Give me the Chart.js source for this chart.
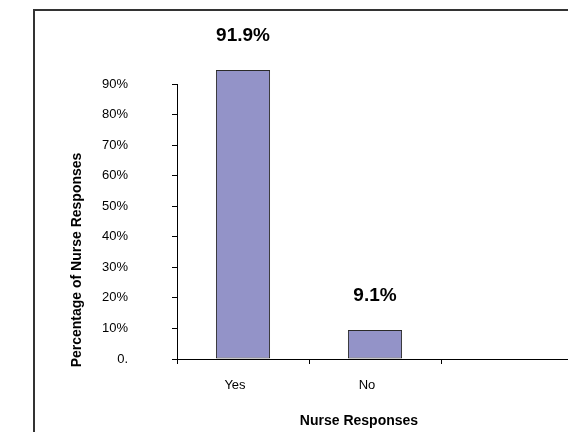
<!DOCTYPE html>
<html>
<head>
<meta charset="utf-8">
<title>Nurse Responses</title>
<script src="https://cdn.jsdelivr.net/npm/chart.js@4.4.1/dist/chart.umd.min.js"></script>
<style>
  html, body { margin: 0; padding: 0; background: #fff; overflow: hidden; }
  #wrap { position: relative; width: 580px; height: 432px; }
</style>
</head>
<body>
<div id="wrap"><canvas id="nurseChart"></canvas></div>
<script>
// data
var categories = ["Yes", "No", ""];
var barHeights = [94.6, 9.5, null];
var valueLabels = ["91.9%", "9.1%", ""];
var yTickLabels = ["0.", "10%", "20%", "30%", "40%", "50%", "60%", "70%", "80%", "90%"];
var xTitle = "Nurse Responses";
var yTitle = "Percentage of Nurse Responses";

Chart.defaults.font.family = "'Liberation Sans', Arial, sans-serif";
Chart.defaults.color = "#000";

// frame, axis titles and the value labels above the bars
var decorations = {
  id: "decorations",
  beforeDraw: function (chart) {
    var ctx = chart.ctx;
    ctx.save();
    ctx.fillStyle = "#fff";
    ctx.fillRect(0, 0, chart.width, chart.height);
    ctx.strokeStyle = "#333";
    ctx.lineWidth = 2;
    ctx.strokeRect(34, 10, chart.width, chart.height);
    ctx.restore();
  },
  afterDraw: function (chart) {
    var ctx = chart.ctx;
    ctx.save();
    ctx.fillStyle = "#000";
    ctx.textAlign = "center";
    ctx.textBaseline = "middle";

    ctx.font = "bold 14px 'Liberation Sans', Arial, sans-serif";
    ctx.fillText(xTitle, 359, 421);

    ctx.translate(77, 260);
    ctx.rotate(-Math.PI / 2);
    ctx.fillText(yTitle, 0, 0);
    ctx.restore();

    ctx.save();
    ctx.fillStyle = "#000";
    ctx.textAlign = "center";
    ctx.textBaseline = "middle";
    ctx.font = "bold 19px 'Liberation Sans', Arial, sans-serif";
    chart.getDatasetMeta(0).data.forEach(function (bar, i) {
      if (!valueLabels[i]) return;
      ctx.fillText(valueLabels[i], bar.x, bar.y - 34);
    });
    ctx.restore();
  }
};

var nurseChart = new Chart(document.getElementById("nurseChart"), {
  type: "bar",
  data: {
    labels: categories,
    datasets: [
      {
        data: barHeights,
        backgroundColor: "#9393C8",
        borderColor: "#2a2a2a",
        borderWidth: 1,
        borderSkipped: false,
        categoryPercentage: 1,
        barPercentage: 0.41,
        clip: false
      }
    ]
  },
  options: {
    responsive: true,
    maintainAspectRatio: false,
    animation: false,
    devicePixelRatio: 1,
    layout: {
      padding: { top: 84, right: 7, bottom: 0, left: 0 }
    },
    plugins: {
      legend: { display: false },
      tooltip: { enabled: false }
    },
    scales: {
      x: {
        grid: {
          display: true,
          drawOnChartArea: false,
          offset: true,
          color: "#000",
          tickLength: 5
        },
        border: { display: true, color: "#000", width: 1 },
        ticks: {
          font: { size: 13 },
          color: "#000",
          padding: 14,
          labelOffset: -8,
          maxRotation: 0
        },
        afterFit: function (scale) { scale.height = 73; }
      },
      y: {
        min: 0,
        max: 90,
        grid: {
          display: true,
          drawOnChartArea: false,
          color: "#000",
          tickLength: 5
        },
        border: { display: true, color: "#000", width: 1 },
        ticks: {
          stepSize: 10,
          font: { size: 13 },
          color: "#000",
          padding: 44,
          callback: function (value, index) { return yTickLabels[index]; }
        },
        afterFit: function (scale) { scale.width = 177; }
      }
    }
  },
  plugins: [decorations]
});
</script>
</body>
</html>
